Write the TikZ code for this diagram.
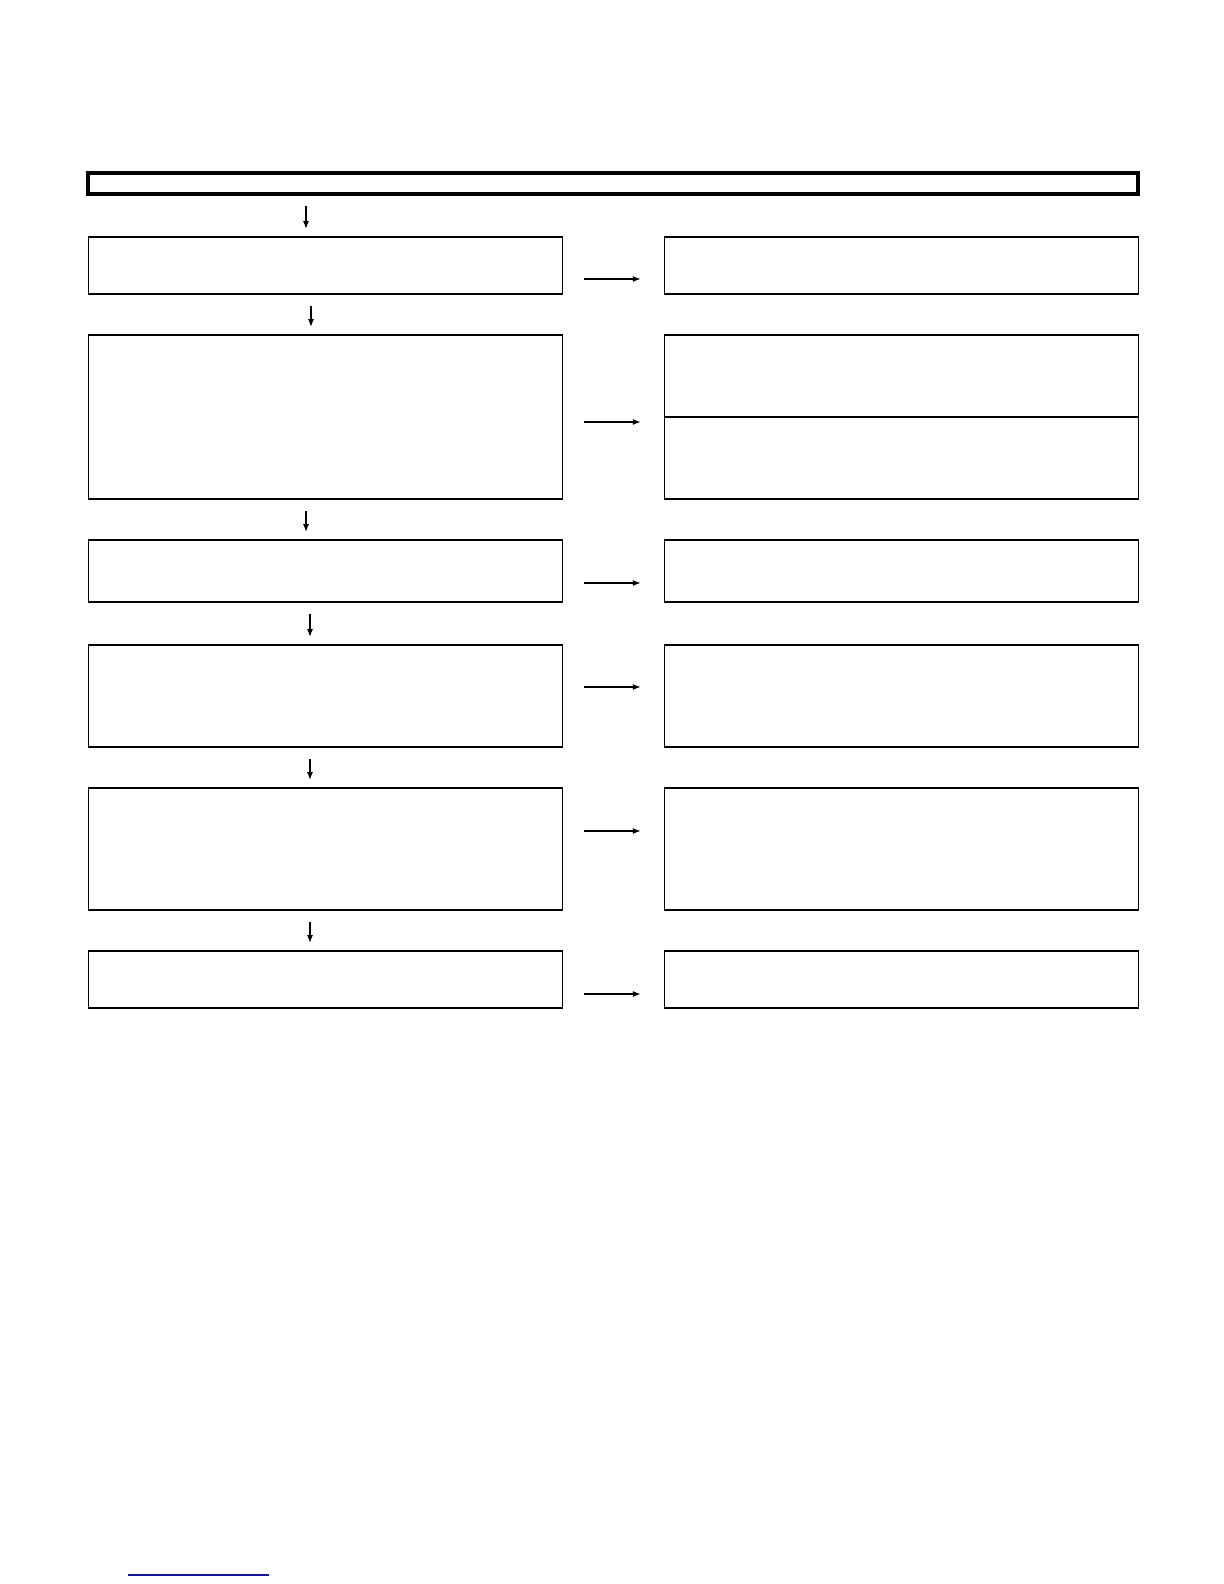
\documentclass[tikz,border=0pt]{standalone}
\usetikzlibrary{arrows.meta}
\definecolor{linkblue}{RGB}{20,20,150}
\tikzset{
  box/.style={draw, line width=0.7pt, minimum width=237pt, inner sep=0pt, outer sep=0pt},
  flow/.style={-{Latex[length=4pt,width=3pt]}, line width=0.6pt},
}
\begin{document}
\begin{tikzpicture}[x=0.5pt,y=-0.5pt]
    \useasboundingbox (0,0) rectangle (1224,1584);
    \node[draw, line width=2pt, minimum width=525pt, minimum height=10.5pt, inner sep=0pt, outer sep=0pt](top) at (613,183.5){};
    \foreach \n/\y/\h in {1/265.5/28.5, 2/417/82, 3/571/31, 4/696/51, 5/849/61, 6/979.5/28.5}{
        \node[box, minimum height=\h pt](l\n) at (325.5,\y){};
        \node[box, minimum height=\h pt](r\n) at (901.75,\y){};
    }
    \draw[line width=0.7pt](r2.west)--(r2.east);

    \foreach \a/\b/\x in {top/l1/306, l1/l2/311, l2/l3/306, l3/l4/310, l4/l5/310, l5/l6/310}
        \draw[flow, shorten <=6pt, shorten >=4pt](\a.south -| \x,0)--(\b.north -| \x,0);
    \foreach \n/\y in {1/279, 2/422, 3/583, 4/687, 5/831, 6/994}
        \draw[flow, shorten <=10.5pt, shorten >=12pt](l\n.east |- 0,\y)--(r\n.west |- 0,\y);

    \draw[linkblue, line width=0.6pt](128,1575)--(269,1575);
\end{tikzpicture}
\end{document}
